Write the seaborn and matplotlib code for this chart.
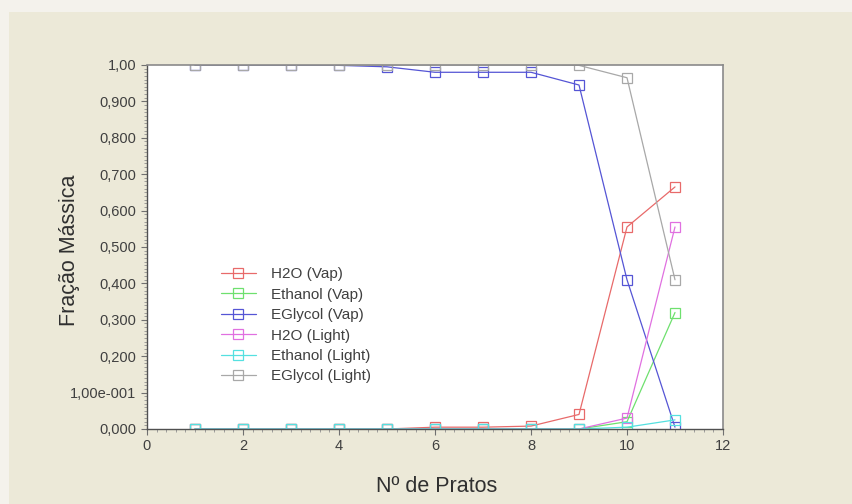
import matplotlib
matplotlib.use("Agg")
import matplotlib.pyplot as plt
import matplotlib.ticker as mticker
from matplotlib.patches import Rectangle
import numpy as np
import pandas as pd
import seaborn as sns

# Values (plate number vs. mass fraction)
pratos = [1, 2, 3, 4, 5, 6, 7, 8, 9, 10, 11]
h2o_vap = [0.0, 0.0, 0.0, 0.0, 0.0, 0.005, 0.005, 0.008, 0.04, 0.555, 0.665]
ethanol_vap = [0.0, 0.0, 0.0, 0.0, 0.0, 0.0, 0.0, 0.0, 0.0, 0.02, 0.32]
eglycol_vap = [0.999, 0.999, 0.999, 0.999, 0.995, 0.98, 0.98, 0.98, 0.945, 0.41, 0.005]
h2o_light = [0.0, 0.0, 0.0, 0.0, 0.0, 0.0, 0.0, 0.0, 0.0, 0.03, 0.555]
ethanol_light = [0.0, 0.0, 0.0, 0.0, 0.0, 0.0, 0.0, 0.0, 0.0, 0.005, 0.025]
eglycol_light = [1.0, 1.0, 1.0, 1.0, 1.0, 1.0, 1.0, 1.0, 0.999, 0.965, 0.41]

series_names = ['H2O (Vap)', 'Ethanol (Vap)', 'EGlycol (Vap)',
                'H2O (Light)', 'Ethanol (Light)', 'EGlycol (Light)']
series_values = [h2o_vap, ethanol_vap, eglycol_vap, h2o_light, ethanol_light, eglycol_light]
series_colors = ['#e86a6a', '#6ee06e', '#5555d5', '#e070e0', '#55e0e0', '#a8a8a8']

y_ticks = [0.0, 0.1, 0.2, 0.3, 0.4, 0.5, 0.6, 0.7, 0.8, 0.9, 1.0]
y_tick_labels = ['0,000', '1,00e-001', '0,200', '0,300', '0,400', '0,500',
                 '0,600', '0,700', '0,800', '0,900', '1,00']

rows = []
for name, vals in zip(series_names, series_values):
    for p, v in zip(pratos, vals):
        rows.append([name, p, v])
df = pd.DataFrame(rows, columns=['Serie', 'Prato', 'Fracao'])

sns.set_style('white')
plt.rcParams['font.family'] = ['Liberation Sans', 'DejaVu Sans']

fig = plt.figure(figsize=(8.53, 5.04), dpi=100, facecolor='#f4f2ec')
bg = Rectangle((9 / 853, 0), 1, 1 - 12 / 504, transform=fig.transFigure,
               facecolor='#ece9d8', edgecolor='none', zorder=-10)
fig.add_artist(bg)
ax = fig.add_axes([147 / 853, 1 - 429 / 504, 576 / 853, 364 / 504])
ax.set_facecolor('white')

sns.lineplot(data=df, x='Prato', y='Fracao', hue='Serie', hue_order=series_names,
             palette=series_colors, marker='s', markersize=7, mfc='none',
             linewidth=0.9, errorbar=None, legend=False, ax=ax)
for line in ax.lines:
    line.set_markeredgecolor(line.get_color())
    line.set_markeredgewidth(0.9)

ax.set_xlim(0, 12)
ax.set_ylim(0, 1.0)
ax.xaxis.set_major_locator(mticker.MultipleLocator(2))
ax.xaxis.set_minor_locator(mticker.MultipleLocator(0.2))
ax.set_yticks(y_ticks)
ax.set_yticklabels(y_tick_labels)
ax.yaxis.set_minor_locator(mticker.MultipleLocator(0.01))
ax.tick_params(which='major', direction='out', length=4, width=0.8, color='#707070',
               labelsize=10.5, labelcolor='#404040', left=True, bottom=True)
ax.tick_params(which='minor', direction='out', length=2, width=0.6, color='#909090',
               left=True, bottom=True)

for side in ['left', 'bottom']:
    ax.spines[side].set_color('#505050')
    ax.spines[side].set_linewidth(1.0)
for side in ['top', 'right']:
    ax.spines[side].set_color('#8a8a8a')
    ax.spines[side].set_linewidth(1.2)

ax.set_xlabel('Nº de Pratos', fontsize=15.5, color='#303030')
ax.set_ylabel('Fração Mássica', fontsize=15.5, color='#303030')
ax.xaxis.set_label_coords(0.503, -0.128)
ax.yaxis.set_label_coords(-0.116, 0.49)

ax.legend(ax.lines, series_names, loc='upper left', bbox_to_anchor=(0.115, 0.465),
          frameon=False, fontsize=11, labelspacing=0.42, handlelength=2.3,
          handletextpad=1.0, borderpad=0, labelcolor='#404040')

fig.savefig('out.png', dpi=100, facecolor=fig.get_facecolor())
